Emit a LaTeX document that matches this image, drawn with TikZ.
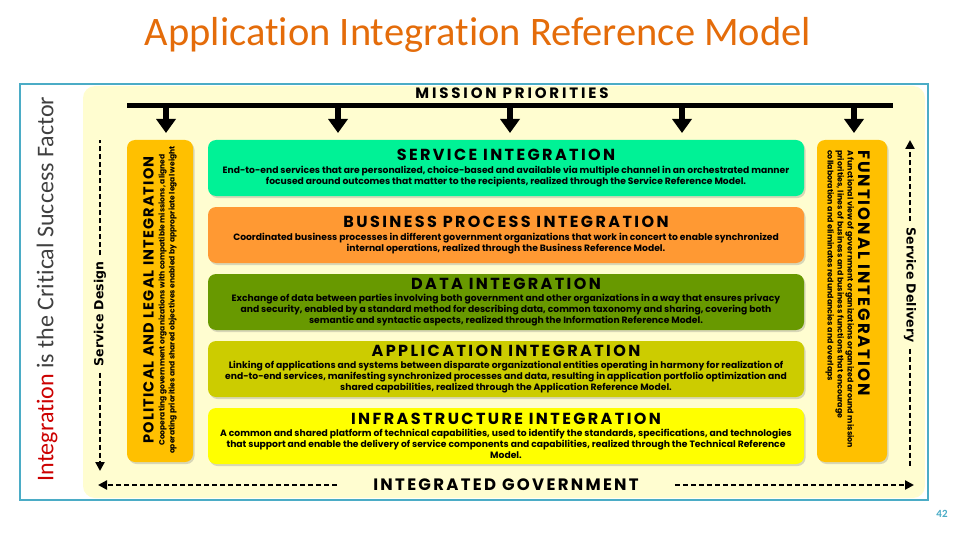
\documentclass[tikz,border=0pt]{standalone}
\usepackage{fontspec}
\setmainfont{Carlito}[Ligatures=NoCommon]
\newfontfamily\geofont{Poppins}
\newfontfamily\verdfont{DejaVu Sans}
\usetikzlibrary{arrows.meta,positioning,shadows}
\definecolor{frameteal}{RGB}{75,172,198}
\definecolor{panelcream}{RGB}{255,253,208}
\definecolor{titleorange}{RGB}{228,108,10}
\definecolor{keyred}{RGB}{204,0,0}
\definecolor{slate}{RGB}{64,64,64}
\definecolor{svcgreen}{RGB}{0,242,150}
\definecolor{bpiorange}{RGB}{255,153,51}
\definecolor{datolive}{RGB}{104,153,0}
\definecolor{appyellow}{RGB}{204,204,0}
\definecolor{infyellow}{RGB}{255,255,0}
\definecolor{sideamber}{RGB}{255,192,0}
\newcommand\descfont{\geofont\bfseries\fontsize{9.2}{11}\selectfont}
\newcommand\ttlfont{\geofont\bfseries\fontsize{16}{18}\selectfont\addfontfeature{LetterSpace=15}}
\newcommand\capsfont{\geofont\bfseries\fontsize{15}{17}\selectfont\addfontfeature{LetterSpace=19}}
\newcommand\flowfont{\verdfont\bfseries\fontsize{12.5}{14}\selectfont}

\begin{document}
\begin{tikzpicture}[x=1pt, y=-1pt,
    layer/.style={rounded corners=8pt, minimum width=596pt, minimum height=56pt, inner sep=0pt,
      align=center, font=\descfont, drop shadow={shadow xshift=1.5pt, shadow yshift=-2pt, opacity=0.3}},
    sidebar/.style={fill=sideamber, rounded corners=8pt, minimum height=322pt, inner sep=0pt,
      drop shadow={shadow xshift=1.5pt, shadow yshift=-2pt, opacity=0.3}},
    mparrow/.style={line width=6pt, -{Triangle[width=19pt,length=14pt]}},
    flowline/.style={line width=2.4pt, dash pattern=on 5pt off 3pt},
    flowarrow/.style={flowline, -{Triangle[width=9pt,length=9pt]}}]
  \useasboundingbox (0,0) rectangle (960,540);

  % title and side caption
  \node[font=\fontsize{40.5}{44}\selectfont, text=titleorange] (ttl) at (478,35) {Application Integration Reference Model};
  \draw[frameteal, line width=2pt] (20,84) rectangle (928,500);
  \node[rotate=90, font=\fontsize{24}{26}\selectfont, text=slate] (csf) at (47,289)
    {\textcolor{keyred}{Integration} is the Critical Success Factor};
  \fill[panelcream, rounded corners=12pt] (83,86) rectangle (925,498);
  \node[text=frameteal, font=\bfseries\fontsize{11}{12}\selectfont] (pg) at (942,514) {42};

  % mission priorities
  \node[font=\capsfont] (mp) at (512,93) {MISSION PRIORITIES};
  \coordinate (barL) at (127,106);
  \coordinate (barR) at (893,106);
  \draw[line width=5pt] (barL) -- (barR);
  \foreach \i/\x in {1/166,2/338,3/510,4/682,5/854} {
    \coordinate (m\i) at (\x,106);
    \coordinate (t\i) at (\x,133);
    \draw[mparrow] (m\i) -- (t\i);
  }

  % layers
  \node[layer, fill=svcgreen] (svc) at (506,168) {{\ttlfont SERVICE INTEGRATION}\\[2pt]
    End-to-end services that are personalized, choice-based and available via multiple channel in an orchestrated manner\\
    focused around outcomes that matter to the recipients, realized through the Service Reference Model.};
  \node[layer, fill=bpiorange] (bpi) at (506,235) {{\ttlfont BUSINESS PROCESS INTEGRATION}\\[2pt]
    Coordinated business processes in different government organizations that work in concert to enable synchronized\\
    internal operations, realized through the Business Reference Model.};
  \node[layer, fill=datolive] (dat) at (506,302) {{\ttlfont DATA INTEGRATION}\\[1pt]
    Exchange of data between parties involving both government and other organizations in a way that ensures privacy\\
    and security, enabled by a standard method for describing data, common taxonomy and sharing, covering both\\
    semantic and syntactic aspects, realized through the Information Reference Model.};
  \node[layer, fill=appyellow] (app) at (506,369) {{\ttlfont APPLICATION INTEGRATION}\\[1pt]
    Linking of applications and systems between disparate organizational entities operating in harmony for realization of\\
    end-to-end services, manifesting synchronized processes and data, resulting in application portfolio optimization and\\
    shared capabilities, realized through the Application Reference Model.};
  \node[layer, fill=infyellow] (inf) at (506,436) {{\ttlfont INFRASTRUCTURE INTEGRATION}\\[1pt]
    A common and shared platform of technical capabilities, used to identify the standards, specifications, and technologies\\
    that support and enable the delivery of service components and capabilities, realized through the Technical Reference\\
    Model.};

  % side bars
  \node[sidebar, minimum width=66pt] (pol) at (160,301) {};
  \node[rotate=90, align=center, inner sep=0pt, font=\geofont\bfseries\fontsize{7.6}{10}\selectfont] (poltxt) at (160,300)
    {{\fontsize{14.5}{16}\selectfont\addfontfeature{LetterSpace=8}POLITICAL AND LEGAL INTEGRATION}\\[1pt]
    Cooperating government organizations with compatible missions, aligned\\
    operating priorities and shared objectives enabled by appropriate legal weight};
  \node[sidebar, minimum width=70pt] (fun) at (852,301) {};
  \node[rotate=-90, align=left, anchor=west, inner sep=0pt, font=\geofont\bfseries\fontsize{7.9}{10}\selectfont] (funtxt) at (848,150)
    {{\fontsize{16.5}{18}\selectfont\addfontfeature{LetterSpace=12}FUNTIONAL INTEGRATION}\\[1pt]
    A functional view of government organizations organized around mission\\
    priorities, lines of business and business functions that encourage\\
    collaboration and eliminates redundancies and overlaps};

  % service design / delivery
  \node[rotate=90, font=\flowfont, inner xsep=6pt] (sdes) at (100,314) {Service Design};
  \coordinate (sdesTop) at (100,140);
  \coordinate (sdesBot) at (100,471);
  \draw[flowline] (sdes.east) -- (sdesTop);
  \draw[flowarrow] (sdes.west) -- (sdesBot);
  \node[rotate=-90, font=\flowfont, inner xsep=6pt] (sdel) at (910,285) {Service Delivery};
  \coordinate (sdelTop) at (910,140);
  \coordinate (sdelBot) at (910,466);
  \draw[flowarrow] (sdel.west) -- (sdelTop);
  \draw[flowline] (sdel.east) -- (sdelBot);

  % integrated government
  \node[font=\geofont\bfseries\fontsize{16.5}{18}\selectfont\addfontfeature{LetterSpace=14}, inner xsep=36pt] (ig) at (506,485) {INTEGRATED GOVERNMENT};
  \coordinate (igL) at (98,485);
  \coordinate (igR) at (914,485);
  \draw[flowarrow] (ig.west) -- (igL);
  \draw[flowarrow] (ig.east) -- (igR);
\end{tikzpicture}
\end{document}
